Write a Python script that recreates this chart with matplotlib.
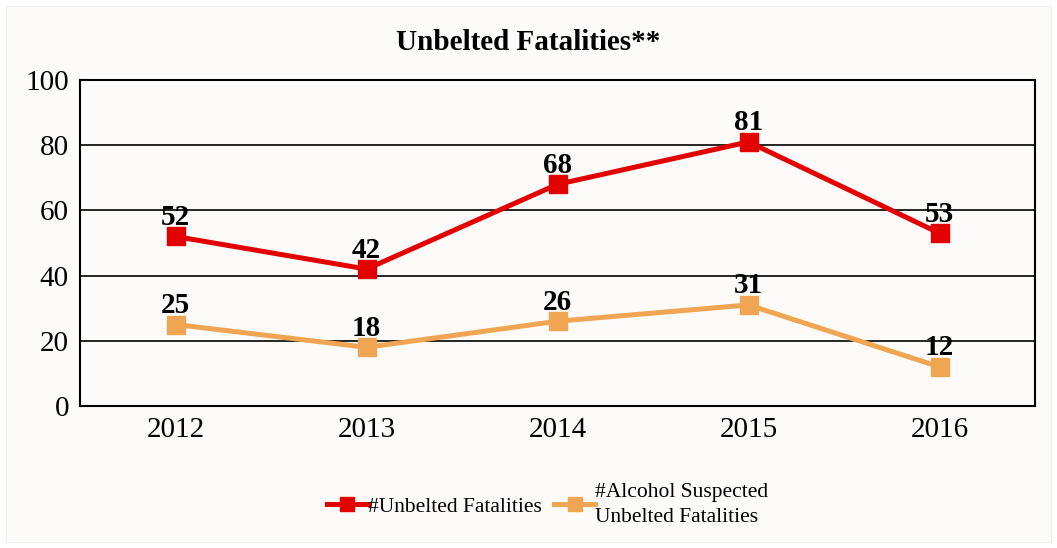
import matplotlib.pyplot as plt
from matplotlib.patches import Rectangle

years = ['2012', '2013', '2014', '2015', '2016']
unbelted = [52, 42, 68, 81, 53]
alcohol = [25, 18, 26, 31, 12]

red = '#e30000'
orange = '#f0a552'

plt.rcParams['font.family'] = ['Liberation Serif', 'DejaVu Serif']

fig = plt.figure(figsize=(10.57, 5.48), dpi=100)
fig.patch.set_facecolor('white')
fig.patches.append(Rectangle((6/1057, 6/548), 1 - 12/1057, 1 - 12/548,
                             transform=fig.transFigure, facecolor='#fcfbfa',
                             edgecolor='#eeeeee', lw=0.8, zorder=-10))

ax = fig.add_axes([80/1057, 1 - 406/548, 955/1057, 326/548])
ax.set_facecolor('#fcfbfa')

x = range(len(years))
ax.plot(x, unbelted, color=red, lw=3.6, marker='s', ms=13, label='#Unbelted Fatalities', zorder=3)
ax.plot(x, alcohol, color=orange, lw=3.6, marker='s', ms=13,
        label='#Alcohol Suspected\nUnbelted Fatalities', zorder=3)

# value labels sit just over the markers
for series in (unbelted, alcohol):
    for xi, v in zip(x, series):
        ax.annotate(str(v), (xi, v), xytext=(0, 4), textcoords='offset points',
                    ha='center', va='bottom', fontsize=21, fontweight='bold', zorder=5)

ax.set_xlim(-0.5, 4.5)
ax.set_ylim(0, 100)
ax.set_yticks([0, 20, 40, 60, 80, 100])
ax.set_xticks(list(x))
ax.set_xticklabels(years)
ax.tick_params(length=0, labelsize=21, pad=8)
ax.yaxis.grid(True, color='black', lw=1.2)
ax.set_axisbelow(False)
for s in ax.spines.values():
    s.set_linewidth(1.5)

fig.suptitle('Unbelted Fatalities**', x=0.5, y=1 - 42/548, va='center',
             fontsize=21, fontweight='bold')

leg = fig.legend(loc='center', bbox_to_anchor=(0.518, 1 - 505/548), ncol=2, frameon=False,
                 fontsize=15.5, handlelength=1.9, handletextpad=0.0, columnspacing=0.6,
                 markerscale=0.75, labelspacing=0.2)
for t in leg.get_texts():
    t.set_linespacing(1.5)

fig.savefig('out.png', dpi=100, facecolor=fig.get_facecolor())
